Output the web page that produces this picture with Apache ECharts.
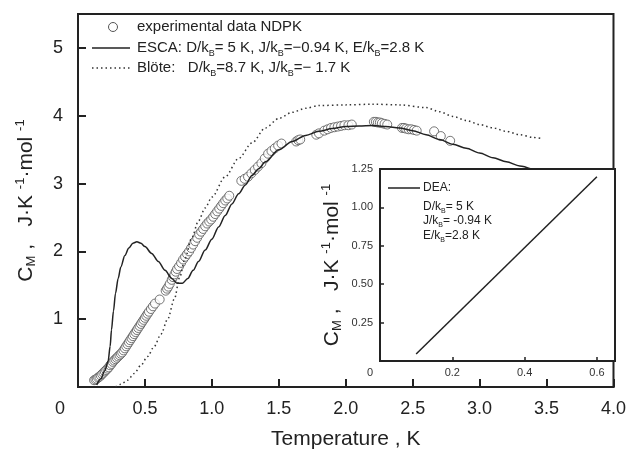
<!DOCTYPE html>
<html><head><meta charset="utf-8">
<script src="https://cdn.jsdelivr.net/npm/echarts@6/dist/echarts.min.js"></script>
<style>html,body{margin:0;padding:0;background:#fff}#c{width:629px;height:455px}</style>
</head><body><div id="c"></div>
<script>
// ---- data ----
const expT = [0.12,0.13,0.14,0.15,0.16,0.17,0.18,0.19,0.20,0.21,0.22,0.23,0.24,0.25,0.26,0.27,0.28,0.29,0.30,0.31,0.32,0.33,0.34,0.35,0.36,0.37,0.38,0.39,0.40,0.41,0.42,0.43,0.44,0.45,0.46,0.47,0.48,0.49,0.50,0.51,0.52,0.53,0.545,0.56,0.575,0.61,0.655,0.665,0.675,0.685,0.70,0.71,0.72,0.73,0.74,0.755,0.77,0.785,0.80,0.815,0.83,0.845,0.86,0.875,0.89,0.905,0.92,0.935,0.95,0.965,0.98,0.995,1.01,1.025,1.04,1.055,1.07,1.085,1.10,1.115,1.13,1.22,1.245,1.27,1.295,1.32,1.345,1.37,1.395,1.42,1.445,1.47,1.495,1.52,1.63,1.645,1.66,1.78,1.80,1.84,1.865,1.89,1.915,1.94,1.965,1.99,2.02,2.045,2.21,2.225,2.24,2.255,2.27,2.29,2.31,2.42,2.435,2.45,2.47,2.49,2.51,2.53,2.66,2.71,2.78];
const expC = [0.10,0.11,0.12,0.14,0.15,0.17,0.19,0.21,0.23,0.25,0.27,0.29,0.32,0.34,0.37,0.39,0.41,0.43,0.45,0.47,0.49,0.51,0.54,0.57,0.60,0.63,0.66,0.69,0.72,0.75,0.78,0.81,0.84,0.87,0.90,0.93,0.96,0.99,1.02,1.05,1.08,1.11,1.15,1.19,1.23,1.29,1.42,1.45,1.48,1.52,1.58,1.62,1.66,1.70,1.74,1.78,1.83,1.88,1.92,1.96,2.00,2.05,2.10,2.15,2.20,2.25,2.29,2.33,2.37,2.41,2.44,2.47,2.51,2.55,2.59,2.63,2.67,2.71,2.75,2.78,2.82,3.04,3.07,3.10,3.15,3.20,3.25,3.30,3.37,3.44,3.48,3.52,3.56,3.59,3.62,3.64,3.65,3.72,3.74,3.78,3.80,3.82,3.83,3.84,3.85,3.86,3.86,3.87,3.91,3.91,3.90,3.90,3.89,3.88,3.87,3.82,3.82,3.81,3.80,3.80,3.79,3.78,3.77,3.70,3.63];

const escaT = [0.14,0.17,0.20,0.225,0.24,0.25,0.265,0.28,0.30,0.32,0.35,0.38,0.41,0.44,0.47,0.50,0.55,0.60,0.65,0.70,0.74,0.78,0.82,0.86,0.90,0.95,1.00,1.05,1.10,1.15,1.20,1.25,1.30,1.35,1.40,1.50,1.60,1.70,1.80,1.90,2.00,2.10,2.20,2.30,2.40,2.50,2.60,2.70,2.80,2.90,3.00,3.10,3.20,3.30,3.39];
const escaC = [0.03,0.12,0.24,0.38,0.60,0.84,1.12,1.38,1.60,1.77,1.94,2.05,2.12,2.14,2.12,2.07,1.97,1.85,1.72,1.60,1.53,1.53,1.60,1.72,1.85,2.02,2.18,2.36,2.53,2.70,2.85,2.98,3.12,3.22,3.32,3.50,3.62,3.71,3.77,3.81,3.84,3.85,3.855,3.84,3.82,3.78,3.72,3.65,3.58,3.52,3.45,3.38,3.32,3.26,3.21];

const bloteT = [0.28,0.32,0.37,0.42,0.47,0.52,0.57,0.62,0.67,0.72,0.76,0.80,0.85,0.90,0.95,1.00,1.10,1.20,1.30,1.40,1.50,1.60,1.70,1.80,2.00,2.20,2.40,2.60,2.70,2.80,2.90,3.00,3.10,3.20,3.30,3.40,3.47];
const bloteC = [0.00,0.04,0.10,0.20,0.32,0.45,0.60,0.78,1.00,1.30,1.62,1.90,2.20,2.45,2.64,2.80,3.10,3.37,3.60,3.82,3.96,4.05,4.11,4.15,4.16,4.17,4.16,4.12,4.06,3.99,3.93,3.87,3.82,3.77,3.72,3.68,3.66];

const deaT = [0.10, 0.60];
const deaC = [0.045, 1.20];

const legendMain = ['experimental data NDPK',
  'ESCA: D/k{sub|B}= 5 K, J/k{sub|B}=\u22120.94 K, E/k{sub|B}=2.8 K',
  'Bl\u00f6te:   D/k{sub|B}=8.7 K, J/k{sub|B}=\u2212 1.7 K'];
const legendInset = ['DEA:', 'D/k{sub|B}= 5 K', 'J/k{sub|B}= -0.94 K', 'E/k{sub|B}=2.8 K'];
const yName = 'C{sub|M} ,   J\u00b7K {sup|-1}\u00b7mol {sup|-1}';
const xName = 'Temperature , K';

// ---- chart ----
const FONT = '"Liberation Sans", Arial, Helvetica, sans-serif';
const INK = '#222';
const zip = (a, b) => a.map((v, i) => [v, b[i]]);

const chart = echarts.init(document.getElementById('c'), null, {renderer: 'canvas'});

const nameRich = {
  sub: {fontSize: 13, fontFamily: FONT, color: INK, verticalAlign: 'bottom', lineHeight: 13},
  sup: {fontSize: 13, fontFamily: FONT, color: INK, verticalAlign: 'top', lineHeight: 13}
};

function gText(x, y, text, size, subSize, lh) {
  return {
    type: 'text', x: x, y: y, silent: true,
    style: {
      text: text, fill: INK, fontSize: size, fontFamily: FONT,
      align: 'left', verticalAlign: 'middle', lineHeight: lh,
      rich: {sub: {fontSize: subSize, fontFamily: FONT, fill: INK, verticalAlign: 'bottom', lineHeight: subSize}}
    }
  };
}

const option = {
  animation: false,
  backgroundColor: '#fff',
  grid: [
    {left: 78, top: 14, width: 537, height: 373, show: true, borderColor: INK, borderWidth: 2, backgroundColor: 'transparent'},
    {left: 380, top: 169, width: 235, height: 192, show: true, borderColor: INK, borderWidth: 2, backgroundColor: '#fff'}
  ],
  xAxis: [
    {type: 'value', gridIndex: 0, min: 0, max: 4, interval: 0.5,
      axisLine: {show: true, onZero: false, lineStyle: {color: INK, width: 2}},
      axisTick: {show: true, inside: true, length: 8, lineStyle: {color: INK, width: 2}},
      splitLine: {show: false},
      axisLabel: {color: INK, fontSize: 18, fontFamily: FONT, margin: 13,
        formatter: v => v === 0 ? '{z|0}' : v.toFixed(1),
        rich: {z: {fontSize: 18, fontFamily: FONT, color: INK, padding: [0, 36, 0, 0]}}},
      name: xName, nameLocation: 'middle', nameGap: 42,
      nameTextStyle: {fontSize: 21, color: INK, fontFamily: FONT}},
    {type: 'value', gridIndex: 1, min: 0, max: 0.65, interval: 0.2,
      axisLine: {show: true, onZero: false, lineStyle: {color: INK, width: 2}},
      axisTick: {show: true, inside: true, length: 4, lineStyle: {color: INK, width: 1.5}},
      splitLine: {show: false},
      axisLabel: {color: '#333', fontSize: 11, fontFamily: FONT, margin: 6,
        formatter: v => v === 0 ? '{z|0}' : (v > 0.64 ? '' : v.toFixed(1)),
        rich: {z: {fontSize: 11, fontFamily: FONT, color: '#333', padding: [0, 20, 0, 0]}}}}
  ],
  yAxis: [
    {type: 'value', gridIndex: 0, min: 0, max: 5.5, interval: 1,
      axisLine: {show: true, onZero: false, lineStyle: {color: INK, width: 2}},
      axisTick: {show: true, inside: true, length: 8, lineStyle: {color: INK, width: 2}},
      splitLine: {show: false},
      axisLabel: {color: INK, fontSize: 18, fontFamily: FONT, margin: 15,
        formatter: v => (v === 0 || v > 5.2) ? '' : String(v)},
      name: yName, nameLocation: 'middle', nameGap: 40, nameRotate: 90,
      nameTextStyle: {fontSize: 21, color: INK, fontFamily: FONT, lineHeight: 24, rich: nameRich}},
    {type: 'value', gridIndex: 1, min: 0, max: 1.25, interval: 0.25,
      axisLine: {show: true, onZero: false, lineStyle: {color: INK, width: 2}},
      axisTick: {show: true, inside: true, length: 4, lineStyle: {color: INK, width: 1.5}},
      splitLine: {show: false},
      axisLabel: {color: '#333', fontSize: 11, fontFamily: FONT, margin: 7,
        formatter: v => v === 0 ? '' : v.toFixed(2)},
      name: yName, nameLocation: 'middle', nameGap: 36, nameRotate: 90,
      nameTextStyle: {fontSize: 21, color: INK, fontFamily: FONT, lineHeight: 24, rich: nameRich}}
  ],
  series: [
    {type: 'scatter', xAxisIndex: 0, yAxisIndex: 0, data: zip(expT, expC),
      symbol: 'circle', symbolSize: 9, silent: true, z: 2,
      itemStyle: {color: '#fff', borderColor: '#555', borderWidth: 1}},
    {type: 'line', xAxisIndex: 0, yAxisIndex: 0, data: zip(escaT, escaC),
      symbol: 'none', smooth: 0.3, smoothMonotone: 'x', silent: true, z: 3,
      lineStyle: {color: INK, width: 1.5}},
    {type: 'line', xAxisIndex: 0, yAxisIndex: 0, data: zip(bloteT, bloteC),
      symbol: 'none', smooth: 0.3, smoothMonotone: 'x', silent: true, z: 3,
      lineStyle: {color: '#333', width: 1.5, type: [1.5, 3]}},
    {type: 'line', xAxisIndex: 1, yAxisIndex: 1, data: zip(deaT, deaC),
      symbol: 'none', silent: true, z: 3,
      lineStyle: {color: INK, width: 1.5}}
  ],
  graphic: [
    {type: 'circle', silent: true, shape: {cx: 113, cy: 27, r: 4.5}, style: {fill: '#fff', stroke: '#555', lineWidth: 1}},
    gText(137, 27, legendMain[0], 15, 9, 20),
    {type: 'line', silent: true, shape: {x1: 92, y1: 48, x2: 130, y2: 48}, style: {stroke: INK, lineWidth: 1.5}},
    gText(137, 48, legendMain[1], 15, 9, 20),
    {type: 'line', silent: true, shape: {x1: 92, y1: 68, x2: 130, y2: 68}, style: {stroke: '#333', lineWidth: 1.5, lineDash: [1.5, 3]}},
    gText(137, 68, legendMain[2], 15, 9, 20),
    {type: 'line', silent: true, shape: {x1: 388, y1: 188, x2: 420, y2: 188}, style: {stroke: INK, lineWidth: 1.5}},
    gText(423, 188, legendInset[0], 12, 7, 16),
    gText(423, 207, legendInset[1], 12, 7, 16),
    gText(423, 221, legendInset[2], 12, 7, 16),
    gText(423, 236, legendInset[3], 12, 7, 16)
  ]
};
chart.setOption(option);
</script></body></html>
